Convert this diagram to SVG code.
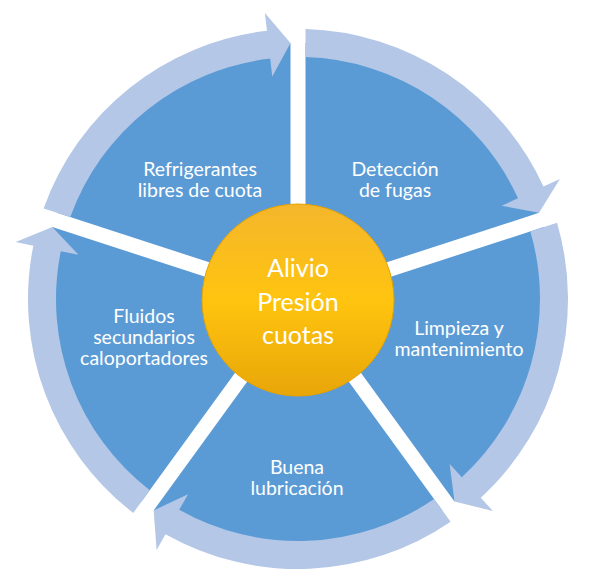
<svg xmlns="http://www.w3.org/2000/svg" width="596" height="588" viewBox="0 0 596 588">
<defs>
<linearGradient id="gold" x1="0" y1="0" x2="0" y2="1">
<stop offset="0" stop-color="#f4b62c"/>
<stop offset="0.5" stop-color="#ffc40f"/>
<stop offset="1" stop-color="#e8a608"/>
</linearGradient>
<style>
.seg{fill:#5b9bd5}
.arr{fill:#b4c7e7}
.lbl{fill:#ffffff;font-family:Lato,"Open Sans","Liberation Sans",sans-serif;font-size:19.5px;text-anchor:middle}
.ctr{fill:#ffffff;font-family:Lato,"Open Sans","Liberation Sans",sans-serif;font-size:25px;text-anchor:middle}
</style>
</defs>
<rect width="596" height="588" fill="#ffffff"/>
<g id="node-deteccion">
<path class="seg" d="M305.5,288.68 L305.5,43.11 A256,256 0 0 1 539.05,212.79 Z"/>
<text class="lbl" x="395" y="176">Detección</text>
<text class="lbl" x="395" y="197">de fugas</text>
</g>
<g id="node-limpieza">
<path class="seg" d="M310.14,302.94 L543.69,227.05 A256,256 0 0 1 454.48,501.61 Z"/>
<text class="lbl" x="459" y="335">Limpieza y</text>
<text class="lbl" x="459" y="356">mantenimiento</text>
</g>
<g id="node-lubricacion">
<path class="seg" d="M298,311.76 L442.34,510.43 A256,256 0 0 1 153.66,510.43 Z"/>
<text class="lbl" x="297" y="474">Buena</text>
<text class="lbl" x="297" y="495">lubricación</text>
</g>
<g id="node-fluidos">
<path class="seg" d="M285.86,302.94 L141.52,501.61 A256,256 0 0 1 52.31,227.05 Z"/>
<text class="lbl" x="144" y="323">Fluidos</text>
<text class="lbl" x="144" y="344">secundarios</text>
<text class="lbl" x="144" y="365">caloportadores</text>
</g>
<g id="node-refrigerantes">
<path class="seg" d="M290.5,288.68 L56.95,212.79 A256,256 0 0 1 290.5,43.11 Z"/>
<text class="lbl" x="200" y="176">Refrigerantes</text>
<text class="lbl" x="200" y="197">libres de cuota</text>
</g>
<g id="connectors">
<path class="arr" d="M43.63,208.47 A270,270 0 0 1 266.97,30.79 L264.90,12.91 L290.5,43.11 L272.25,76.49 L270.18,58.60 A242,242 0 0 0 70.28,217.12 Z"/>
<path class="arr" d="M305.5,29.10 A270,270 0 0 1 543.49,186.60 L559.86,179.11 L539.05,212.79 L501.67,205.75 L518.04,198.26 A242,242 0 0 0 305.5,57.12 Z"/>
<path class="arr" d="M557.01,222.73 A270,270 0 0 1 480.76,497.75 L492.94,511.00 L454.48,501.61 L449.62,463.89 L461.80,477.14 A242,242 0 0 0 530.36,231.38 Z"/>
<path class="arr" d="M450.58,521.76 A270,270 0 0 1 165.46,534.23 L156.62,549.91 L153.66,510.43 L188.04,494.15 L179.20,509.83 A242,242 0 0 0 434.11,499.10 Z"/>
<path class="arr" d="M133.28,512.94 A270,270 0 0 1 33.33,245.63 L15.68,242.07 L52.31,227.05 L78.42,254.72 L60.77,251.17 A242,242 0 0 0 149.75,490.28 Z"/>
</g>
<g id="node-center">
<circle cx="298" cy="300" r="96" fill="url(#gold)" stroke="#e6a200" stroke-width="1"/>
<text class="ctr" x="298" y="277">Alivio</text>
<text class="ctr" x="298" y="311">Presión</text>
<text class="ctr" x="298" y="344">cuotas</text>
</g>
</svg>
